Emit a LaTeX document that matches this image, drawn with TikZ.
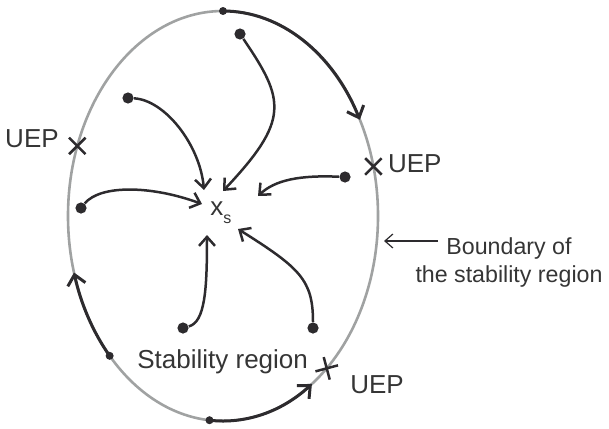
\documentclass[tikz,border=0pt]{standalone}
\usepackage{fontspec}
\setmainfont{Liberation Sans}
\usetikzlibrary{arrows.meta,positioning,shapes.misc}
\definecolor{SRInk}{HTML}{2D2B2E}
\definecolor{SRGray}{HTML}{A0A2A2}
\definecolor{SRText}{HTML}{353535}

\begin{document}
\begin{tikzpicture}[
  x=0.5pt,y=-0.5pt,
  bound/.style={draw=SRGray,line width=1.3pt},
  orbit/.style={draw=SRInk,line width=1.5pt,-{Straight Barb[length=5pt,width=9pt]}},
  traj/.style={draw=SRInk,line width=1.25pt,-{Straight Barb[length=4.5pt,width=8pt]}},
  seed/.style={circle,fill=SRInk,inner sep=0pt,minimum size=5.6pt},
  edgept/.style={circle,fill=SRInk,inner sep=0pt,minimum size=4pt},
  uep/.style={draw=SRInk,cross out,line width=1.25pt,inner sep=0pt,minimum size=7pt},
  lbl/.style={text=SRText,font=\fontsize{13}{14}\selectfont,inner sep=0pt},
  pointer/.style={draw=SRInk,line width=0.6pt,-{Straight Barb[length=4pt,width=7pt]}}
]
\useasboundingbox (0,0) rectangle (609,428);
\coordinate (c) at (223,216);
\draw[bound] (c) ellipse[x radius=155,y radius=205];
% trajectories running along the boundary
\path (c) ++(-90:155 and 205) node[edgept] (b1) {};
\path (c) ++(95:155 and 205) node[edgept] (b2) {};
\path (c) ++(137:155 and 205) node[edgept] (b3) {};
\draw[orbit] (b1.center) arc[start angle=-90,end angle=-28,x radius=155,y radius=205];
\draw[orbit] (b2.center) arc[start angle=95,end angle=55,x radius=155,y radius=205];
\draw[orbit] (b3.center) arc[start angle=137,end angle=164,x radius=155,y radius=205];
% unstable equilibrium points
\path (c) ++(200:155 and 205) node[uep] (u1) {};
\path (c) ++(-14:155 and 205) node[uep] (u2) {};
\path (c) ++(48:155 and 205) node[uep,rotate=-30] (u3) {};
\node[lbl,left=5pt of u1,yshift=3.5pt] (l1) {UEP};
\node[lbl,right=3pt of u2,yshift=1.5pt] (l2) {UEP};
\node[lbl] (l3) at (377,385) {UEP};
% stable point and trajectories inside
\node[lbl,anchor=base west] (xs) at (210,215) {x\raisebox{-4pt}{\fontsize{8}{8}\selectfont s}};
\foreach \n/\x/\y in {p1/240/34,p2/128/98,p3/81/208,p4/345/177,p5/183/328,p6/313/328}{\node[seed] (\n) at (\x,\y) {};}
\foreach \n/\x/\y in {e1/223/191,e2/204/190,e3/202/204,e4/258/196,e5/207/235,e6/238/229}{\coordinate (\n) at (\x,\y);}
\draw[traj] (p1) .. controls (285,100) and (290,120) .. (e1);
\draw[traj] (p2) .. controls (165,100) and (200,145) .. (e2);
\draw[traj] (p3) .. controls (100,185) and (150,185) .. (e3);
\draw[traj] (p4) .. controls (300,175) and (275,180) .. (e4);
\draw[traj] (p5) .. controls (205,322) and (207,290) .. (e5);
\draw[traj] (p6) .. controls (313,280) and (300,268) .. (e6);
\node[lbl,anchor=base west] (reg) at (137,368) {Stability region};
% boundary label
\node[lbl,align=center,font=\fontsize{11.6}{14}\selectfont] (bdry) at (509,262) {Boundary of\\the stability region};
\coordinate (bs) at (438,241);
\coordinate (bt) at (384,241);
\draw[pointer] (bs) -- (bt);
\end{tikzpicture}
\end{document}
